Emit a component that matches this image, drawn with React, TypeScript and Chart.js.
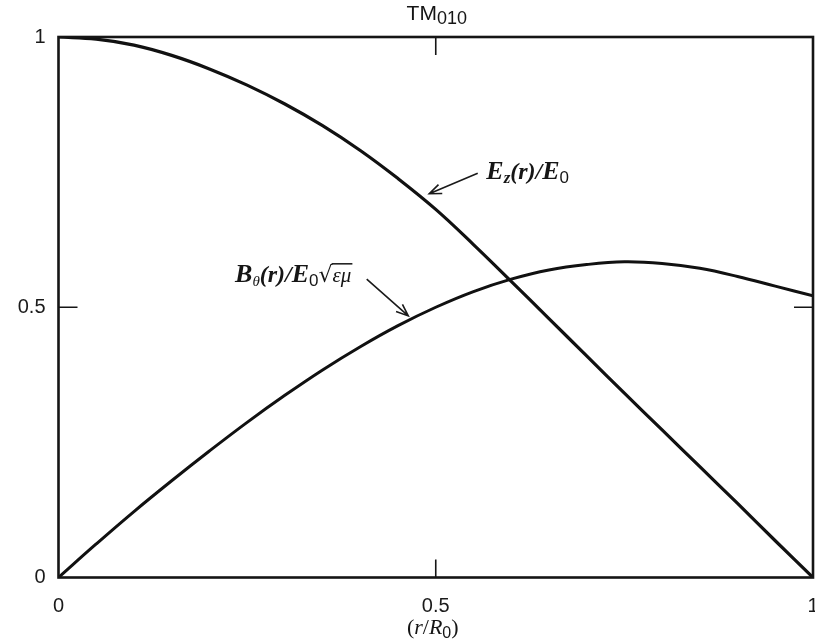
import { useEffect, useRef } from "react";
import { Chart, registerables } from "chart.js";

Chart.register(...registerables);

// r / R0 sample positions
const rValues = [0, 0.05, 0.1, 0.15, 0.2, 0.25, 0.3, 0.35, 0.4, 0.45, 0.5, 0.55, 0.6, 0.65, 0.7, 0.75, 0.8, 0.85, 0.9, 0.95, 1.0];
// Ez(r)/E0
const ezValues = [1.0, 0.996, 0.985, 0.966, 0.941, 0.911, 0.876, 0.836, 0.79, 0.738, 0.681, 0.616, 0.548, 0.479, 0.41, 0.341, 0.273, 0.205, 0.137, 0.068, 0.0];
// Btheta(r)/E0 sqrt(eps mu)
const bThetaValues = [0.0, 0.062, 0.122, 0.179, 0.234, 0.287, 0.337, 0.384, 0.427, 0.466, 0.5, 0.529, 0.552, 0.569, 0.579, 0.584, 0.581, 0.572, 0.557, 0.539, 0.521];

const xTickValues = [0, 0.5, 1];
const yTickValues = [0, 0.5, 1];
const innerTickValue = 0.5;

const titleMain = "TM";
const titleSub = "010";

type Run = { text: string; font: string; dy?: number; overline?: boolean };

function drawRuns(ctx: CanvasRenderingContext2D, x: number, y: number, runs: Run[], align: "left" | "center" = "left") {
  ctx.save();
  ctx.textBaseline = "alphabetic";
  ctx.textAlign = "left";
  let total = 0;
  for (const r of runs) {
    ctx.font = r.font;
    total += ctx.measureText(r.text).width;
  }
  let cx = align === "center" ? x - total / 2 : x;
  for (const r of runs) {
    ctx.font = r.font;
    const w = ctx.measureText(r.text).width;
    ctx.fillText(r.text, cx, y + (r.dy || 0));
    if (r.overline) {
      ctx.beginPath();
      ctx.lineWidth = 1.5;
      ctx.moveTo(cx - 1, y - 18);
      ctx.lineTo(cx + w + 1, y - 18);
      ctx.stroke();
    }
    cx += w;
  }
  ctx.restore();
}

function arrow(ctx: CanvasRenderingContext2D, x1: number, y1: number, x2: number, y2: number) {
  ctx.save();
  ctx.strokeStyle = "#1a1a1a";
  ctx.lineWidth = 1.6;
  ctx.beginPath();
  ctx.moveTo(x1, y1);
  ctx.lineTo(x2, y2);
  const a = Math.atan2(y2 - y1, x2 - x1);
  const L = 13;
  const s = 0.38;
  ctx.moveTo(x2 - L * Math.cos(a - s), y2 - L * Math.sin(a - s));
  ctx.lineTo(x2, y2);
  ctx.lineTo(x2 - L * Math.cos(a + s), y2 - L * Math.sin(a + s));
  ctx.stroke();
  ctx.restore();
}

const decorPlugin = {
  id: "decor",
  afterDraw(chart: any) {
    const ctx: CanvasRenderingContext2D = chart.ctx;
    const { left, right, top, bottom } = chart.chartArea;
    const xs = chart.scales.x;
    const ys = chart.scales.y;
    const px = (v: number) => xs.getPixelForValue(v);
    const py = (v: number) => ys.getPixelForValue(v);

    ctx.save();
    ctx.strokeStyle = "#151515";
    ctx.fillStyle = "#151515";
    // frame
    ctx.lineWidth = 2.6;
    ctx.strokeRect(left, top, right - left, bottom - top);
    // inward ticks at 0.5
    ctx.lineWidth = 1.6;
    ctx.beginPath();
    const ty = py(innerTickValue);
    ctx.moveTo(left, ty); ctx.lineTo(left + 19, ty);
    ctx.moveTo(right, ty); ctx.lineTo(right - 19, ty);
    const tx = px(innerTickValue);
    ctx.moveTo(tx, top); ctx.lineTo(tx, top + 18);
    ctx.moveTo(tx, bottom); ctx.lineTo(tx, bottom - 18);
    ctx.stroke();

    // title
    drawRuns(ctx, px(0.5) + 1, 20, [
      { text: titleMain, font: "21px 'Liberation Sans', Arial, sans-serif" },
      { text: titleSub, font: "18px 'Liberation Sans', Arial, sans-serif", dy: 4 },
    ], "center");

    // axis title (r/R0)
    drawRuns(ctx, px(0.5) - 3, 634, [
      { text: "(", font: "22px 'Liberation Serif', serif" },
      { text: "r", font: "italic 22px 'Liberation Serif', serif" },
      { text: "/", font: "22px 'Liberation Serif', serif" },
      { text: "R", font: "italic 22px 'Liberation Serif', serif" },
      { text: "0", font: "16px 'Liberation Sans', sans-serif", dy: 4 },
      { text: ")", font: "22px 'Liberation Serif', serif" },
    ], "center");

    // Ez label
    const bi = "italic bold 26px 'Liberation Serif', serif";
    const bi2 = "italic bold 24px 'Liberation Serif', serif";
    const sub = "italic bold 17px 'Liberation Serif', serif";
    const sub0 = "17px 'Liberation Sans', sans-serif";
    drawRuns(ctx, px(0.567), py(0.754) + 9, [
      { text: "E", font: bi },
      { text: "z", font: sub, dy: 4 },
      { text: "(r)/", font: bi2 },
      { text: "E", font: bi },
      { text: "0", font: sub0, dy: 4 },
    ]);
    arrow(ctx, px(0.5556), py(0.748), px(0.4914), py(0.71));

    // Btheta label
    drawRuns(ctx, px(0.234), py(0.5637) + 9, [
      { text: "B", font: bi },
      { text: "θ", font: "italic 15px 'Liberation Serif', serif", dy: 4 },
      { text: "(r)/", font: bi2 },
      { text: "E", font: bi },
      { text: "0", font: sub0, dy: 4 },
      { text: "√", font: "22px 'DejaVu Sans', sans-serif" },
      { text: "εμ", font: "italic 21px 'Liberation Serif', serif", overline: true },
    ]);
    arrow(ctx, px(0.4085), py(0.552), px(0.4636), py(0.484));
    ctx.restore();
  },
};

export default function App() {
  const canvasRef = useRef<HTMLCanvasElement | null>(null);

  useEffect(() => {
    const canvas = canvasRef.current;
    if (!canvas) return;
    const chart = new Chart(canvas, {
      type: "line",
      data: {
        datasets: [
          {
            label: "Ez(r)/E0",
            data: rValues.map((r, i) => ({ x: r, y: ezValues[i] })),
            borderColor: "#111",
            borderWidth: 3.2,
            pointRadius: 0,
            tension: 0.4,
            fill: false,
          },
          {
            label: "Bθ(r)/E0√εμ",
            data: rValues.map((r, i) => ({ x: r, y: bThetaValues[i] })),
            borderColor: "#111",
            borderWidth: 3.0,
            pointRadius: 0,
            tension: 0.4,
            fill: false,
          },
        ],
      },
      options: {
        responsive: false,
        animation: false,
        layout: { padding: { top: 37, right: 2, left: 0, bottom: 0 } },
        plugins: { legend: { display: false }, tooltip: { enabled: false }, title: { display: false } },
        scales: {
          x: {
            type: "linear",
            min: 0,
            max: 1,
            grid: { display: false },
            border: { display: false },
            afterBuildTicks: (s: any) => { s.ticks = xTickValues.map((v) => ({ value: v })); },
            afterFit: (s: any) => { s.height = 61.5; s.paddingLeft = 0; s.paddingRight = 0; },
            ticks: {
              padding: 9,
              maxRotation: 0,
              autoSkip: false,
              color: "#1a1a1a",
              font: { family: "'Liberation Sans', Arial, sans-serif", size: 20 },
              callback: (v: any) => String(v),
            },
          },
          y: {
            type: "linear",
            min: 0,
            max: 1,
            grid: { display: false },
            border: { display: false },
            afterBuildTicks: (s: any) => { s.ticks = yTickValues.map((v) => ({ value: v })); },
            afterFit: (s: any) => { s.width = 58.5; s.paddingTop = 0; s.paddingBottom = 0; },
            ticks: {
              padding: 5,
              autoSkip: false,
              color: "#1a1a1a",
              font: { family: "'Liberation Sans', Arial, sans-serif", size: 20 },
              callback: (v: any) => String(v),
            },
          },
        },
      },
      plugins: [decorPlugin],
    });
    return () => chart.destroy();
  }, []);

  return (
    <div style={{ position: "fixed", left: 0, top: 0, width: 815, height: 639, background: "#fff" }}>
      <canvas ref={canvasRef} width={815} height={639} style={{ display: "block" }} />
    </div>
  );
}
